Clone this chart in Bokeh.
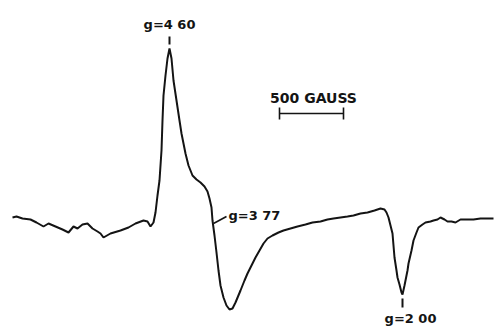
from bokeh.plotting import figure
from bokeh.models import Range1d
from bokeh.core.properties import value
from bokeh.embed import file_html
from bokeh.resources import INLINE

# EPR spectrum trace (field in arbitrary units, signal; y grows downward)
field = [12, 16, 22, 30, 36, 43, 48, 55, 62, 68, 73, 77, 82, 87, 92, 97, 100, 103, 110, 120,
         128, 135, 143, 147, 150, 153, 155, 157, 159, 161, 162, 163, 165, 167, 169, 171, 173,
         176, 179, 181, 185, 188, 192, 196, 200, 204, 207, 209, 211, 212, 214, 216, 218, 220,
         223, 226, 229, 232, 235, 240, 244, 247, 251, 255, 259, 263, 267, 272, 278, 283, 290,
         297, 305, 312, 320, 327, 333, 340, 347, 353, 360, 367, 374, 380, 384, 386, 388, 390,
         392, 393, 394, 396, 397, 399, 401, 402, 404, 405, 407, 408, 411, 413, 416, 418, 422,
         425, 430, 433, 437, 440, 444, 447, 451, 455, 460, 466, 473, 480, 487, 493]
signal = [217, 216, 218, 219, 222, 226, 223, 226, 229, 232, 226, 228, 224, 223, 228, 231, 233,
          237, 233, 230, 227, 223, 220, 221, 226, 222, 212, 195, 180, 150, 120, 95, 75, 58, 48,
          58, 80, 100, 120, 133, 153, 165, 175, 179, 182, 186, 191, 198, 207, 220, 235, 252,
          270, 285, 297, 305, 309, 308, 302, 290, 280, 273, 265, 257, 250, 243, 238, 235, 232,
          230, 228, 226, 224, 222, 221, 219, 218, 217, 216, 215, 213, 212, 210, 208, 209, 212,
          217, 225, 233, 245, 257, 270, 277, 284, 292, 294, 285, 280, 270, 263, 250, 240, 232,
          227, 224, 222, 221, 220, 219, 217, 219, 221, 221, 222, 219, 219, 219, 218, 218, 218]

# g-value markers
g_labels = ["g=4 60", "g=3 77", "g=2 00"]
g_field = [169, 213, 402]

scale_label = "500 GAUSS"
scale_start = 279
scale_end = 343

p = figure(width=494, height=326, output_backend="svg", toolbar_location=None,
           x_range=Range1d(0, 494), y_range=Range1d(326, 0),
           min_border=0, background_fill_color="white", border_fill_color="white")
p.xaxis.visible = False
p.yaxis.visible = False
p.grid.visible = False
p.outline_line_color = None

ink = "#141414"
p.line(field, signal, line_color=ink, line_width=2.0)

# markers for g-values
p.segment(x0=[g_field[0], g_field[2]], y0=[36, 298], x1=[g_field[0], g_field[2]], y1=[44, 307],
          line_color=ink, line_width=2)
p.segment(x0=[g_field[1]], y0=[223], x1=[226], y1=[216], line_color=ink, line_width=1.6)

fnt = value("DejaVu Sans")
p.text(x=[g_field[0]], y=[24], text=[g_labels[0]], text_font=fnt, text_font_size="13px",
       text_align="center", text_baseline="middle", text_color=ink, text_font_style="bold")
p.text(x=[228], y=[215], text=[g_labels[1]], text_font=fnt, text_font_size="13px",
       text_align="left", text_baseline="middle", text_color=ink, text_font_style="bold")
p.text(x=[410], y=[318], text=[g_labels[2]], text_font=fnt, text_font_size="13px",
       text_align="center", text_baseline="middle", text_color=ink, text_font_style="bold")

# scale bar
p.segment(x0=[scale_start], y0=[113], x1=[scale_end], y1=[113], line_color=ink, line_width=1.6)
p.segment(x0=[scale_start, scale_end], y0=[107, 107], x1=[scale_start, scale_end], y1=[119, 119],
          line_color=ink, line_width=1.6)
p.text(x=[(scale_start + scale_end) / 2 + 2], y=[97], text=[scale_label], text_font=fnt,
       text_font_size="14px", text_align="center", text_baseline="middle", text_color=ink,
       text_font_style="bold")

open("out.html", "w").write(file_html(p, INLINE))
